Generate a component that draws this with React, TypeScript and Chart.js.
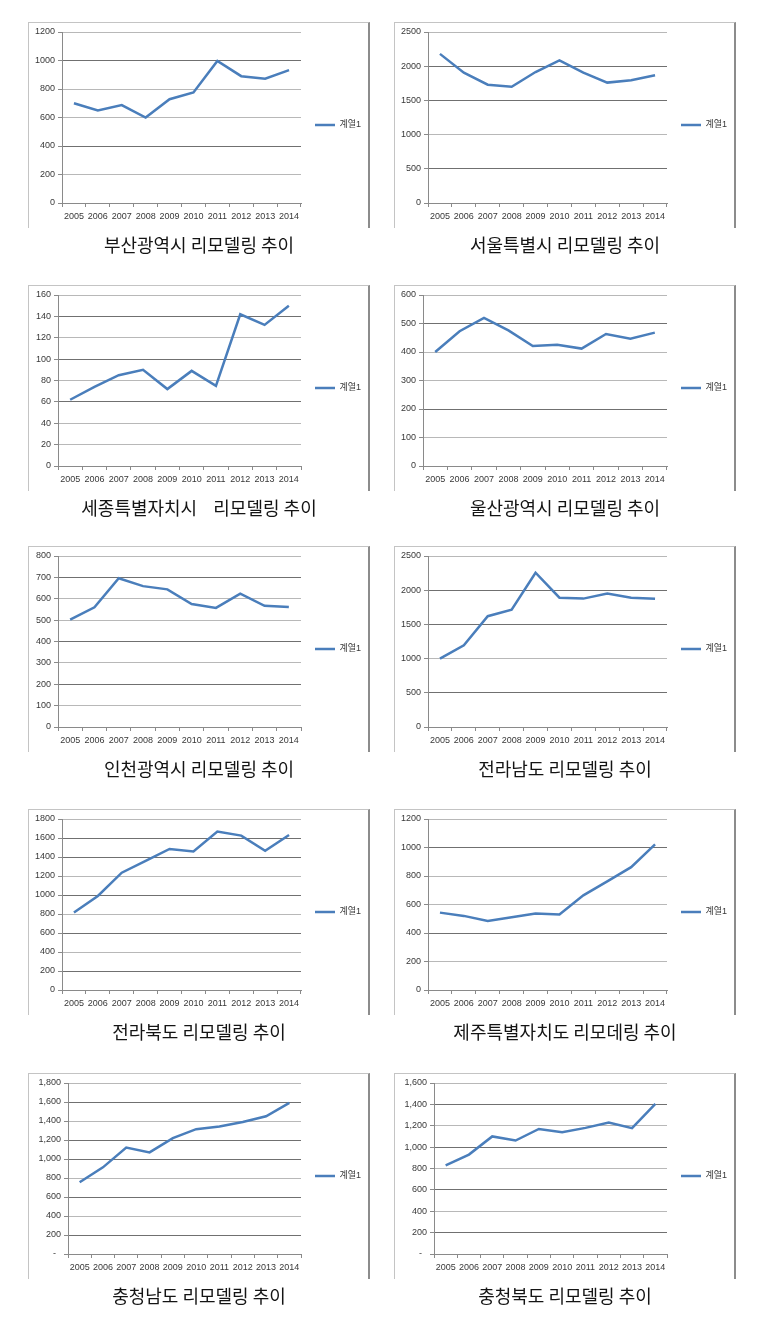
import React, { useEffect, useRef } from 'react';
import { Chart, registerables } from 'chart.js';

Chart.register(...registerables);

// ---- data ----
const years = ['2005', '2006', '2007', '2008', '2009', '2010', '2011', '2012', '2013', '2014'];
const seriesName = '계열1';

const busan = [700, 650, 687, 600, 728, 776, 997, 890, 872, 932];
const seoul = [2180, 1905, 1730, 1700, 1915, 2085, 1905, 1760, 1795, 1868];
const sejong = [62, 74, 85, 90, 72, 89, 75, 142, 132, 150];
const ulsan = [400, 473, 520, 476, 421, 425, 412, 463, 447, 468];
const incheon = [502, 560, 696, 659, 644, 575, 557, 624, 567, 561];
const jeonnam = [1000, 1195, 1620, 1715, 2255, 1890, 1877, 1950, 1890, 1875];
const jeonbuk = [815, 990, 1235, 1360, 1485, 1458, 1667, 1625, 1465, 1632];
const jeju = [543, 520, 485, 510, 536, 530, 664, 762, 862, 1022];
const chungnam = [755, 912, 1120, 1070, 1220, 1314, 1342, 1390, 1450, 1590];
const chungbuk = [830, 930, 1100, 1062, 1170, 1140, 1180, 1230, 1177, 1405];

const titles = [
  '부산광역시 리모델링 추이',
  '서울특별시 리모델링 추이',
  '세종특별자치시    리모델링 추이',
  '울산광역시 리모델링 추이',
  '인천광역시 리모델링 추이',
  '전라남도 리모델링 추이',
  '전라북도 리모델링 추이',
  '제주특별자치도 리모데링 추이',
  '충청남도 리모델링 추이',
  '충청북도 리모델링 추이',
];
const seriesList = [busan, seoul, sejong, ulsan, incheon, jeonnam, jeonbuk, jeju, chungnam, chungbuk];
const axisMax = [1200, 2500, 160, 600, 800, 2500, 1800, 1200, 1800, 1600];
const axisStep = [200, 500, 20, 100, 100, 500, 200, 200, 200, 200];
const commaFormat = [false, false, false, false, false, false, false, false, true, true];

// ---- styles / layout ----
const LINE_COLOR = '#4a7ebb';
const AXIS_COLOR = '#8a8a8a';
const GRID_DARK = '#707070';
const GRID_LIGHT = '#b8b8b8';
const TEXT_COLOR = '#383838';
const BOX_W = 342;
const BOX_H = 206;
const colX = [28, 394];
const rowY = [22, 285, 546, 809, 1073];
const yAxisWidth = [34, 34, 30, 29, 30, 34, 34, 34, 40, 40];
const darkGrid = [
  [1000, 400],
  [2000, 1500, 500],
  [140, 100, 60],
  [500, 200],
  [700, 400, 200],
  [2000, 1500, 500],
  [1600, 1400, 1000, 600, 200],
  [1000, 400],
  [1600, 1200, 1000, 600, 200],
  [1400, 1000, 600, 200],
];

const tickFont = { family: '"Liberation Sans", Arial, "Noto Sans CJK KR", sans-serif', size: 9 };

function Panel({ idx }: { idx: number }) {
  const ref = useRef<HTMLCanvasElement>(null);
  const x = colX[idx % 2];
  const y = rowY[Math.floor(idx / 2)];

  useEffect(() => {
    const dark = darkGrid[idx];
    const chart = new Chart(ref.current as HTMLCanvasElement, {
      type: 'line',
      data: {
        labels: years,
        datasets: [
          {
            label: seriesName,
            data: seriesList[idx],
            borderColor: LINE_COLOR,
            backgroundColor: LINE_COLOR,
            borderWidth: 2.5,
            pointRadius: 0,
            pointHoverRadius: 0,
            tension: 0,
            fill: false,
          },
        ],
      },
      options: {
        responsive: false,
        animation: false,
        events: [],
        layout: { padding: { top: 0, left: 0, right: 9, bottom: 0 } },
        plugins: {
          tooltip: { enabled: false },
          title: { display: false },
          legend: {
            display: true,
            position: 'right',
            maxWidth: 60,
            labels: {
              usePointStyle: true,
              pointStyle: 'line',
              pointStyleWidth: 20,
              padding: 14,
              color: TEXT_COLOR,
              font: tickFont,
            },
          },
        },
        scales: {
          x: {
            type: 'category',
            offset: true,
            grid: {
              display: true,
              drawOnChartArea: false,
              offset: true,
              drawTicks: true,
              tickLength: 4,
              tickColor: AXIS_COLOR,
            },
            border: { display: true, color: AXIS_COLOR, width: 1 },
            ticks: {
              color: TEXT_COLOR,
              font: tickFont,
              padding: 4,
              maxRotation: 0,
              minRotation: 0,
              autoSkip: false,
            },
            afterFit: (s: any) => {
              s.height = 25;
            },
          },
          y: {
            type: 'linear',
            min: 0,
            max: axisMax[idx],
            grid: {
              color: (c: any) => (c.tick && dark.includes(c.tick.value) ? GRID_DARK : GRID_LIGHT),
              lineWidth: 1,
              drawTicks: true,
              tickLength: 4,
              tickColor: AXIS_COLOR,
            },
            border: { display: true, color: AXIS_COLOR, width: 1 },
            ticks: {
              stepSize: axisStep[idx],
              color: TEXT_COLOR,
              font: tickFont,
              padding: 3,
              callback: (v: any) => {
                const n = Number(v);
                if (commaFormat[idx]) {
                  return n === 0 ? '-  ' : n.toLocaleString('en-US');
                }
                return String(n);
              },
            },
            afterFit: (s: any) => {
              s.width = yAxisWidth[idx];
              s.paddingTop = 10;
            },
          },
        },
      },
    } as any);
    return () => chart.destroy();
  }, [idx]);

  return (
    <>
      <div style={{ position: 'absolute', left: x, top: y, width: BOX_W, height: BOX_H }}>
        <canvas ref={ref} width={BOX_W} height={BOX_H} style={{ position: 'absolute', left: 0, top: 0 }} />
        <div
          style={{
            position: 'absolute',
            left: 0,
            top: 0,
            width: BOX_W,
            height: BOX_H,
            boxSizing: 'border-box',
            borderTop: '1px solid #c4c4c4',
            borderLeft: '1px solid #c4c4c4',
            borderRight: '2px solid #8c8c8c',
            pointerEvents: 'none',
          }}
        />
      </div>
      <div
        style={{
          position: 'absolute',
          left: x,
          top: y + 211,
          width: BOX_W,
          textAlign: 'center',
          fontFamily: '"Noto Sans CJK KR", sans-serif',
          fontSize: 18,
          lineHeight: '22px',
          color: '#141414',
          whiteSpace: 'pre',
        }}
      >
        {titles[idx]}
      </div>
    </>
  );
}

export default function App() {
  return (
    <div style={{ position: 'absolute', left: 0, top: 0, width: 784, height: 1332, background: '#ffffff' }}>
      {titles.map((_, i) => (
        <Panel key={i} idx={i} />
      ))}
    </div>
  );
}
